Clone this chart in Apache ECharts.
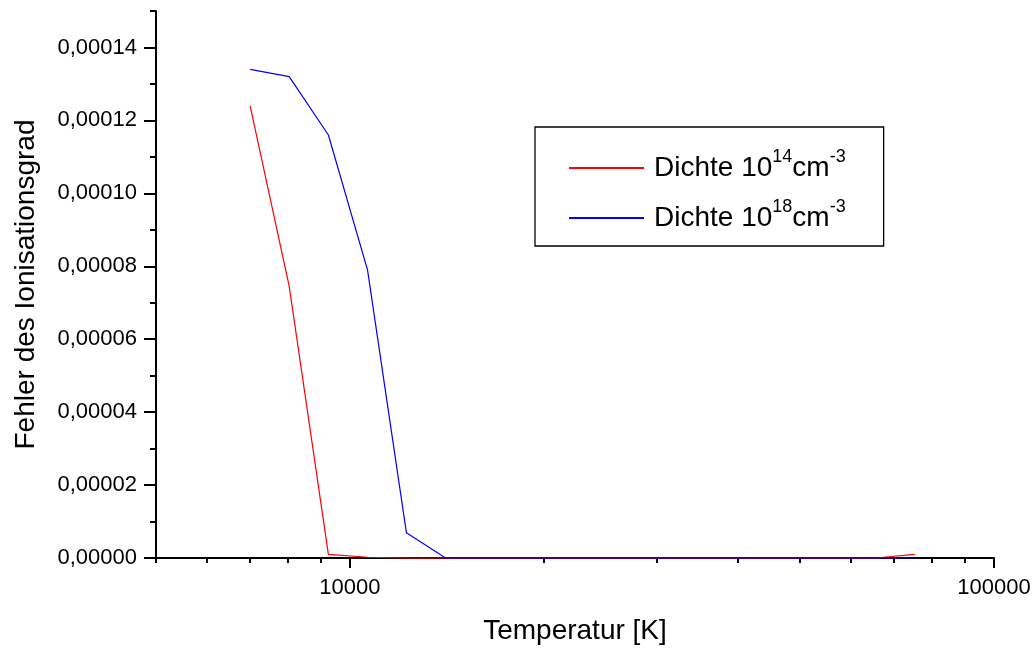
<!DOCTYPE html>
<html>
<head>
<meta charset="utf-8">
<script src="https://cdn.jsdelivr.net/npm/echarts@6/dist/echarts.min.js"></script>
<style>html,body{margin:0;padding:0;background:#fff}#c{width:1035px;height:650px}</style>
</head>
<body>
<div id="c"></div>
<script>
// ---- data ----
var temperatures = [7000, 8050, 9260, 10650, 12240, 14080, 16190, 18620, 21410, 24620, 28320, 32570, 37450, 43070, 49530, 56960, 65500, 75330];
var red14 = [0.000124, 0.0000745, 0.000001, 0.0000002, 0, 0, 0, 0, 0, 0, 0, 0, 0, 0, 0, 0, 0, 0.000001];
var blue18 = [0.000134, 0.000132, 0.000116, 0.000079, 0.0000069, 0, 0, 0, 0, 0, 0, 0, 0, 0, 0, 0, 0, 0];
var seriesNames = ['Dichte 10^14cm^-3', 'Dichte 10^18cm^-3'];
var xMajorTicks = [10000, 100000];
var xMinorTicks = [5000, 6000, 7000, 8000, 9000, 20000, 30000, 40000, 50000, 60000, 70000, 80000, 90000];
var yMajorTicks = [0, 0.00002, 0.00004, 0.00006, 0.00008, 0.00010, 0.00012, 0.00014];
var xTitle = 'Temperatur [K]';
var yTitle = 'Fehler des Ionisationsgrad';

function pairs(xs, ys) { return xs.map(function (x, i) { return [x, ys[i]]; }); }

var FONT = "'Liberation Sans', Arial, sans-serif";
var gridPos = { left: 156, right: 41, top: 11, bottom: 92 };

var chart = echarts.init(document.getElementById('c'), null, { renderer: 'canvas' });
chart.setOption({
  animation: false,
  backgroundColor: '#fff',
  grid: [
    Object.assign({ containLabel: false }, gridPos),
    Object.assign({ containLabel: false }, gridPos)
  ],
  xAxis: [
    {
      type: 'log', logBase: 10, min: 5000, max: 100000, gridIndex: 0,
      name: xTitle, nameLocation: 'middle', nameGap: 59,
      nameTextStyle: { fontFamily: FONT, fontSize: 28, color: '#000' },
      axisLine: { show: true, onZero: false, lineStyle: { color: '#000', width: 2 } },
      axisTick: { show: true, customValues: xMajorTicks, length: 10, lineStyle: { color: '#000', width: 2 } },
      axisLabel: { show: true, customValues: xMajorTicks, margin: 19, fontFamily: FONT, fontSize: 22, color: '#000',
        formatter: function (v) { return String(Math.round(v)); } },
      splitLine: { show: false }
    },
    {
      type: 'log', logBase: 10, min: 5000, max: 100000, gridIndex: 1,
      axisLine: { show: false },
      axisTick: { show: true, customValues: xMinorTicks, length: 5, lineStyle: { color: '#000', width: 2 } },
      axisLabel: { show: false },
      splitLine: { show: false }
    }
  ],
  yAxis: [
    {
      type: 'value', min: 0, max: 0.00015, interval: 0.00001, gridIndex: 0,
      name: yTitle, nameLocation: 'middle', nameGap: 116, nameRotate: 90,
      nameTextStyle: { fontFamily: FONT, fontSize: 28, color: '#000' },
      axisLine: { show: true, onZero: false, lineStyle: { color: '#000', width: 2 } },
      axisTick: { show: true, length: 6, lineStyle: { color: '#000', width: 2 } },
      axisLabel: { show: true, customValues: yMajorTicks, margin: 19, fontFamily: FONT, fontSize: 22, color: '#000',
        formatter: function (v) { return v.toFixed(5).replace('.', ','); } },
      splitLine: { show: false }
    },
    {
      type: 'value', min: 0, max: 0.00015, gridIndex: 1,
      axisLine: { show: false },
      axisTick: { show: true, customValues: yMajorTicks, length: 12, lineStyle: { color: '#000', width: 2 } },
      axisLabel: { show: false },
      splitLine: { show: false }
    }
  ],
  legend: {
    orient: 'vertical', left: 535, top: 127,
    padding: [21, 38, 8, 33], itemGap: 10,
    itemWidth: 75, itemHeight: 14,
    borderColor: '#000', borderWidth: 1.3, backgroundColor: '#fff',
    itemStyle: { opacity: 0, borderWidth: 0 },
    data: seriesNames,
    formatter: function (name) { return name.replace(/\^(-?\d+)/g, '{s|$1}'); },
    textStyle: {
      fontFamily: FONT, fontSize: 28, color: '#000', lineHeight: 36, padding: [0, 0, 0, 5],
      rich: { s: { fontFamily: FONT, fontSize: 18, color: '#000', lineHeight: 14, padding: [0, 0, 22, 0] } }
    }
  },
  series: [
    {
      name: seriesNames[0], type: 'line', xAxisIndex: 0, yAxisIndex: 0,
      data: pairs(temperatures, red14), symbol: 'none', clip: false,
      lineStyle: { color: '#ff0000', width: 1.2 }, itemStyle: { color: '#ff0000' }
    },
    {
      name: seriesNames[1], type: 'line', xAxisIndex: 0, yAxisIndex: 0,
      data: pairs(temperatures, blue18), symbol: 'none', clip: false,
      lineStyle: { color: '#0000ff', width: 1.2 }, itemStyle: { color: '#0000ff' }
    }
  ]
});
</script>
</body>
</html>
